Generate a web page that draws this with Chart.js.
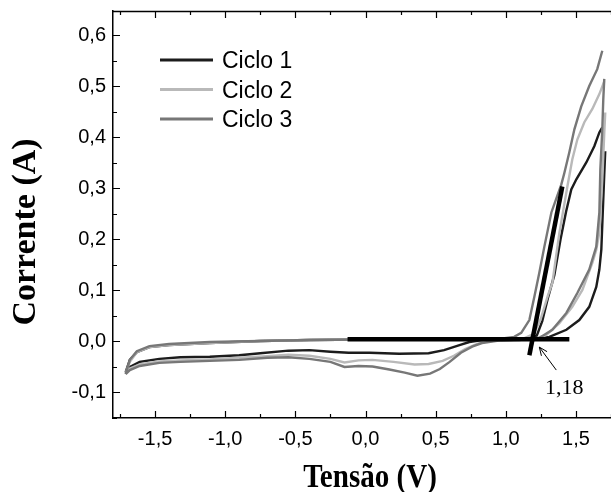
<!DOCTYPE html>
<html>
<head>
<meta charset="utf-8">
<script src="https://cdn.jsdelivr.net/npm/chart.js@4.4.1/dist/chart.umd.min.js"></script>
<style>
  html, body { margin: 0; padding: 0; background: #fff; overflow: hidden; }
  canvas { display: block; }
</style>
</head>
<body>
<canvas id="cv" width="611" height="492"></canvas>
<script>
// Ciclo 1: forward scan, gap at vertex (null), reverse scan
const c1V = [-1.71, -1.68, -1.63, -1.54, -1.40, -1.11, -0.75, -0.40, 0.00, 0.60, 0.95, 1.13, 1.22, 1.26, 1.30, 1.346, 1.39, 1.43, 1.467, 1.503, 1.574, 1.631, 1.667, 1.688,
  1.70,
  1.709, 1.702, 1.695, 1.681, 1.667, 1.645, 1.595, 1.524, 1.432, 1.311, 1.168, 0.954, 0.81, 0.74, 0.67, 0.56, 0.45, 0.24, 0.03, -0.12, -0.25, -0.40, -0.55, -0.75, -0.90, -1.11, -1.32, -1.47, -1.61, -1.68, -1.71];
const c1I = [-0.060, -0.036, -0.021, -0.011, -0.007, -0.003, 0.001, 0.003, 0.004, 0.004, 0.004, 0.005, 0.011, 0.040, 0.085, 0.130, 0.200, 0.255, 0.298, 0.318, 0.351, 0.383, 0.410, 0.420,
  null,
  0.373, 0.328, 0.279, 0.180, 0.141, 0.107, 0.068, 0.042, 0.023, 0.009, 0.004, 0.003, 0.002, -0.001, -0.007, -0.017, -0.023, -0.024, -0.022, -0.022, -0.020, -0.017, -0.018, -0.023, -0.027, -0.030, -0.031, -0.034, -0.040, -0.050, -0.060];

// Ciclo 2
const c2V = [-1.71, -1.68, -1.63, -1.54, -1.40, -1.11, -0.75, -0.40, 0.00, 0.60, 0.95, 1.13, 1.20, 1.25, 1.30, 1.332, 1.382, 1.439, 1.474, 1.51, 1.56, 1.617, 1.667, 1.702,
  1.705,
  1.709, 1.702, 1.688, 1.667, 1.645, 1.617, 1.546, 1.474, 1.382, 1.289, 1.204, 1.097, 1.0, 0.88, 0.80, 0.71, 0.63, 0.55, 0.45, 0.35, 0.20, 0.05, -0.05, -0.15, -0.25, -0.40, -0.55, -0.70, -0.90, -1.11, -1.32, -1.47, -1.61, -1.68, -1.71];
const c2I = [-0.062, -0.040, -0.021, -0.011, -0.007, -0.003, 0.001, 0.003, 0.004, 0.004, 0.004, 0.006, 0.015, 0.045, 0.090, 0.115, 0.213, 0.304, 0.357, 0.396, 0.430, 0.456, 0.485, 0.510,
  null,
  0.449, 0.409, 0.318, 0.214, 0.180, 0.154, 0.101, 0.068, 0.036, 0.013, 0.005, 0.004, 0.003, 0.001, -0.004, -0.015, -0.028, -0.038, -0.044, -0.045, -0.040, -0.036, -0.037, -0.041, -0.034, -0.028, -0.026, -0.029, -0.032, -0.035, -0.037, -0.039, -0.045, -0.053, -0.062];

// Ciclo 3
const c3V = [-1.71, -1.68, -1.63, -1.54, -1.40, -1.11, -0.75, -0.40, 0.00, 0.60, 0.95, 1.06, 1.11, 1.168, 1.204, 1.239, 1.275, 1.325, 1.396, 1.417, 1.453, 1.489, 1.538, 1.595, 1.652, 1.688,
  1.695,
  1.702, 1.695, 1.688, 1.674, 1.667, 1.645, 1.595, 1.510, 1.432, 1.332, 1.239, 1.097, 0.95, 0.83, 0.76, 0.68, 0.60, 0.53, 0.46, 0.37, 0.28, 0.17, 0.05, -0.05, -0.15, -0.25, -0.40, -0.55, -0.70, -0.90, -1.11, -1.32, -1.47, -1.61, -1.68, -1.71];
const c3I = [-0.064, -0.036, -0.019, -0.009, -0.005, -0.001, 0.001, 0.003, 0.004, 0.004, 0.005, 0.009, 0.017, 0.042, 0.088, 0.135, 0.186, 0.253, 0.308, 0.330, 0.371, 0.416, 0.461, 0.501, 0.534, 0.570,
  null,
  0.515, 0.475, 0.416, 0.337, 0.253, 0.186, 0.141, 0.095, 0.056, 0.023, 0.007, 0.003, 0.002, -0.003, -0.010, -0.022, -0.040, -0.054, -0.063, -0.067, -0.061, -0.055, -0.049, -0.048, -0.050, -0.040, -0.034, -0.031, -0.032, -0.036, -0.038, -0.040, -0.042, -0.048, -0.056, -0.064];

// onset construction: baseline, tangent, arrow, label
const baseV = [-0.128, 1.453];
const baseI = [0.0045, 0.0045];
const tanV = [1.168, 1.403];
const tanI = [-0.027, 0.304];
const arrowV = [1.36, 1.239];
const arrowI = [-0.056, -0.011];
const onsetLabel = { v: 1.417, i: -0.091, text: '1,18' };

const labels = ['Ciclo 1', 'Ciclo 2', 'Ciclo 3'];
const colors = ['#1c1c1c', '#b9b9b9', '#777777'];

const xTicks = { min: -1.8, max: 1.75, step: 0.5 };
const yTicks = { min: -0.15, max: 0.648, step: 0.1 };

const pts = (vs, is) => vs.map((v, k) => ({ x: v, y: is[k] }));
const comma = (v, d) => v.toFixed(d).replace('.', ',');

// frame, inward ticks, legend, titles, arrow
const decor = {
  id: 'decor',
  afterDraw(chart) {
    const { ctx, chartArea: a, scales: { x, y } } = chart;
    ctx.save();
    ctx.strokeStyle = '#000';
    ctx.lineWidth = 1.5;
    ctx.beginPath();
    ctx.moveTo(a.left, a.top + 0.5);
    ctx.lineTo(a.right, a.top + 0.5);
    ctx.stroke();

    const marks = (scale, step) => {
      const out = [];
      const vals = scale.ticks.map(t => t.value);
      vals.forEach(v => out.push([v, 7]));
      [vals[0] - step / 2, ...vals.map(v => v + step / 2)].forEach(v => {
        if (v >= scale.min - 1e-9 && v <= scale.max + 1e-9) out.push([v, 4]);
      });
      return out;
    };
    ctx.lineWidth = 1.2;
    ctx.beginPath();
    marks(x, xTicks.step).forEach(([v, len]) => {
      const px = Math.round(x.getPixelForValue(v)) + 0.5;
      ctx.moveTo(px, a.bottom); ctx.lineTo(px, a.bottom - len);
      ctx.moveTo(px, a.top); ctx.lineTo(px, a.top + len);
    });
    marks(y, yTicks.step).forEach(([v, len]) => {
      const py = Math.round(y.getPixelForValue(v)) + 0.5;
      ctx.moveTo(a.left, py); ctx.lineTo(a.left + len, py);
    });
    ctx.stroke();

    // legend
    ctx.font = '23px "Liberation Sans", Arial, sans-serif';
    ctx.textAlign = 'left';
    ctx.textBaseline = 'alphabetic';
    labels.forEach((lab, k) => {
      const ly = 60 + k * 29.5;
      ctx.strokeStyle = colors[k];
      ctx.lineWidth = 3;
      ctx.beginPath();
      ctx.moveTo(160, ly); ctx.lineTo(213, ly);
      ctx.stroke();
      ctx.fillStyle = '#000';
      ctx.fillText(lab, 222, ly + 8);
    });

    // axis titles
    ctx.fillStyle = '#000';
    ctx.font = 'bold 34px "Liberation Serif", "Times New Roman", serif';
    ctx.textAlign = 'center';
    ctx.save();
    ctx.translate(35, 232);
    ctx.rotate(-Math.PI / 2);
    ctx.fillText('Corrente (A)', 0, 0);
    ctx.restore();
    ctx.save();
    ctx.translate(370, 487);
    ctx.scale(0.88, 1);
    ctx.font = 'bold 33px "Liberation Serif", "Times New Roman", serif';
    ctx.fillText('Tensão (V)', 0, 0);
    ctx.restore();

    // arrow to onset
    const x0 = x.getPixelForValue(arrowV[0]), y0 = y.getPixelForValue(arrowI[0]);
    const x1 = x.getPixelForValue(arrowV[1]), y1 = y.getPixelForValue(arrowI[1]);
    const ang = Math.atan2(y1 - y0, x1 - x0);
    ctx.strokeStyle = '#000';
    ctx.lineWidth = 1;
    ctx.beginPath();
    ctx.moveTo(x0, y0); ctx.lineTo(x1, y1);
    ctx.moveTo(x1, y1); ctx.lineTo(x1 - 9 * Math.cos(ang - 0.4), y1 - 9 * Math.sin(ang - 0.4));
    ctx.moveTo(x1, y1); ctx.lineTo(x1 - 9 * Math.cos(ang + 0.4), y1 - 9 * Math.sin(ang + 0.4));
    ctx.stroke();

    ctx.font = '22px "Liberation Serif", "Times New Roman", serif';
    ctx.textBaseline = 'middle';
    ctx.fillText(onsetLabel.text, x.getPixelForValue(onsetLabel.v), y.getPixelForValue(onsetLabel.i));
    ctx.restore();
  }
};

const curve = (k, vs, is, order) => ({
  label: labels[k],
  data: pts(vs, is),
  borderColor: colors[k],
  borderWidth: 2.4,
  showLine: true,
  pointRadius: 0,
  tension: 0,
  spanGaps: false,
  order: order
});

new Chart(document.getElementById('cv'), {
  type: 'scatter',
  data: {
    datasets: [
      { label: 'base', data: pts(baseV, baseI), borderColor: '#000', borderWidth: 4.5, showLine: true, pointRadius: 0, borderCapStyle: 'butt', order: 0 },
      { label: 'tangente', data: pts(tanV, tanI), borderColor: '#000', borderWidth: 4.5, showLine: true, pointRadius: 0, borderCapStyle: 'butt', order: 0 },
      curve(2, c3V, c3I, 1),
      curve(1, c2V, c2I, 2),
      curve(0, c1V, c1I, 3)
    ]
  },
  options: {
    responsive: false,
    animation: false,
    layout: { padding: { top: 11, right: 0, left: 0, bottom: 0 } },
    plugins: { legend: { display: false }, tooltip: { enabled: false } },
    scales: {
      x: {
        type: 'linear',
        min: xTicks.min,
        max: xTicks.max,
        grid: { drawOnChartArea: false, drawTicks: false },
        border: { display: true, color: '#000', width: 1.5 },
        ticks: {
          stepSize: xTicks.step,
          includeBounds: false,
          padding: 9,
          color: '#000',
          font: { family: '"Liberation Sans", Arial, sans-serif', size: 20 },
          callback: v => comma(v, 1)
        },
        afterFit: s => { s.height = 74; s.paddingLeft = 0; s.paddingRight = 0; }
      },
      y: {
        type: 'linear',
        min: yTicks.min,
        max: yTicks.max,
        grid: { drawOnChartArea: false, drawTicks: false },
        border: { display: true, color: '#000', width: 1.5 },
        ticks: {
          stepSize: yTicks.step,
          includeBounds: false,
          padding: 7,
          color: '#000',
          font: { family: '"Liberation Sans", Arial, sans-serif', size: 20 },
          callback: v => comma(v, 1)
        },
        afterFit: s => { s.width = 113; s.paddingTop = 0; s.paddingBottom = 0; }
      }
    }
  },
  plugins: [decor]
});
</script>
</body>
</html>
